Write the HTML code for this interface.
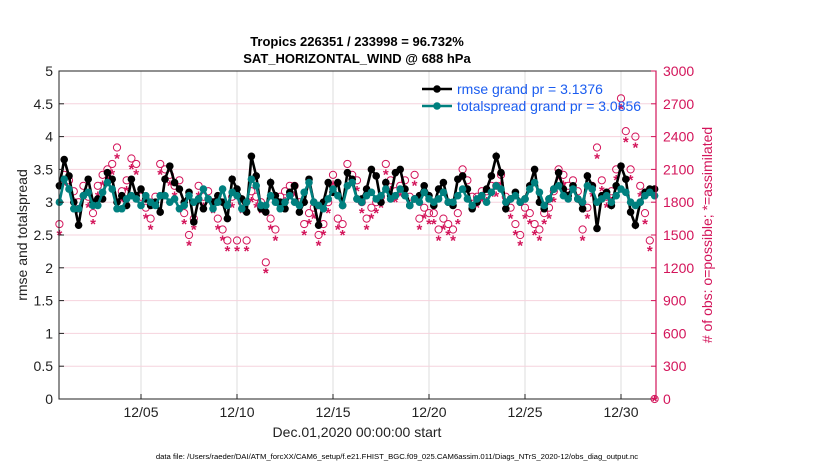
<!DOCTYPE html>
<html><head><meta charset="utf-8"><style>
body{margin:0;background:#fff;width:830px;height:470px;overflow:hidden}
svg{font-family:"Liberation Sans",sans-serif}
</style></head><body>
<svg id="chart" width="830" height="470"></svg>
<script>
const rmse=[3.25,3.65,3.4,3.0,2.65,3.1,3.35,3.0,3.05,3.05,
3.45,3.35,3.0,3.1,2.95,3.35,3.1,3.2,3.05,2.95,
3.0,2.85,3.35,3.55,3.3,3.2,3.0,3.15,2.7,3.05,
2.9,3.05,3.0,3.1,3.0,2.75,3.35,3.2,3.05,2.85,
3.7,3.4,2.9,2.85,3.3,3.1,3.0,2.9,3.15,3.25,
2.85,3.0,3.35,3.0,2.65,3.0,3.3,3.15,3.3,2.95,
3.45,3.35,3.05,3.05,3.2,3.5,3.4,3.0,3.3,3.1,
3.45,3.5,3.2,2.95,3.05,3.1,3.25,3.1,2.95,3.2,
3.3,3.0,2.95,3.35,3.4,3.2,2.9,3.0,3.1,3.2,
3.4,3.7,3.45,2.9,3.05,3.15,3.0,3.05,3.25,3.5,
3.0,2.9,3.05,3.2,3.45,3.2,3.1,3.25,3.05,2.9,
3.4,3.25,2.6,3.1,3.15,2.95,3.25,3.55,3.35,2.85,
2.65,3.0,3.15,3.2,3.2];
const spread=[3.0,3.35,3.2,2.9,2.9,3.1,3.15,2.95,2.95,3.15,
3.3,3.2,2.9,2.9,3.05,3.1,3.05,2.95,3.1,3.0,
2.95,3.1,3.1,3.0,3.05,2.9,2.95,3.1,3.0,3.05,
3.2,3.05,2.9,3.0,3.2,2.95,3.15,3.1,2.9,3.0,
3.35,3.25,2.95,2.95,3.1,3.0,2.9,3.0,3.1,3.0,
2.95,3.15,3.3,3.0,2.95,2.9,3.05,3.2,3.1,2.95,
3.25,3.3,3.05,3.0,3.1,3.15,3.05,3.1,3.2,3.05,
3.1,3.2,3.1,2.95,3.05,3.0,3.15,3.05,3.0,3.05,
3.15,3.0,3.0,3.1,3.2,3.05,2.95,3.05,3.1,3.0,
3.15,3.25,3.2,3.0,3.05,3.1,3.0,3.05,3.2,3.3,
3.15,2.95,3.05,3.2,3.25,3.1,3.05,3.2,3.05,3.0,
3.25,3.2,3.0,3.05,3.1,3.0,3.1,3.2,3.15,3.0,
2.95,3.0,3.1,3.15,3.1];
const obsPossible=[1600,2050,2000,1900,1800,1950,1850,1700,1950,2050,
2100,2150,2300,1900,2000,2200,2150,1850,1750,1650,
1850,2150,2100,2050,1950,2000,1700,1500,1650,1950,
1850,1900,1800,1650,1550,1450,1850,1450,1800,1450,
1900,1850,1800,1250,1650,1550,1850,1900,1950,1950,
1800,1600,1700,1750,1500,1600,1800,2050,1650,1600,
2150,2050,2000,1800,1650,1750,1800,1850,2150,2000,
1900,1950,2000,1850,2050,1650,1750,1700,1700,1550,
1650,1600,1550,1700,2100,2000,1850,1850,1900,1900,
1950,1950,2050,1850,1750,1600,1500,1750,1700,1600,
1550,1700,1750,1900,2100,2050,1950,2000,1900,1550,
1750,1950,2300,2000,1850,1900,2100,2750,2450,2100,
2400,1950,1700,1450,0];
const obsUsed=[1520,1970,1920,1820,1720,1870,1770,1620,1870,1970,
2020,2070,2220,1820,1920,2120,2070,1770,1670,1570,
1770,2070,2020,1970,1870,1920,1620,1420,1570,1870,
1770,1820,1720,1570,1470,1370,1770,1370,1720,1370,
1820,1770,1720,1170,1570,1470,1770,1820,1870,1870,
1720,1520,1620,1670,1420,1520,1720,1970,1570,1520,
2070,1970,1920,1720,1570,1670,1720,1770,2070,1920,
1820,1870,1920,1770,1970,1570,1670,1620,1620,1470,
1570,1520,1470,1620,2020,1920,1770,1770,1820,1820,
1870,1870,1970,1770,1670,1520,1420,1670,1620,1520,
1470,1620,1670,1820,2020,1970,1870,1920,1820,1470,
1670,1870,2220,1920,1770,1820,2020,2670,2370,2020,
2320,1870,1620,1370,0];
const dayStart=0.75, dayStep=0.25;
const xTickDays=[5,10,15,20,25,30];
const xTickLabels=["12/05","12/10","12/15","12/20","12/25","12/30"];
const yLeftTicks=[0,0.5,1,1.5,2,2.5,3,3.5,4,4.5,5];
const yRightTicks=[0,300,600,900,1200,1500,1800,2100,2400,2700,3000];

const svg=document.getElementById('chart');
const NS='http://www.w3.org/2000/svg';
const L=59,R=656,T=71,B=399;
const xs=d=>64.2+(d-1)*19.2;
const yl=v=>B-(v/5)*(B-T);
const yr=v=>B-(v/3000)*(B-T);
const RED='#d3145a',TEAL='#00807f';
function mk(tag,at,parent){const e=document.createElementNS(NS,tag);for(const k in at)e.setAttribute(k,at[k]);(parent||svg).appendChild(e);return e;}
function txt(s,at,parent){const e=mk('text',at,parent);e.textContent=s;return e;}

mk('rect',{x:L,y:T,width:R-L,height:B-T,fill:'#fff'});
const grid=mk('g',{});


xTickDays.forEach(d=>mk('line',{x1:xs(d),x2:xs(d),y1:T,y2:B,stroke:'#dcdcdc','stroke-width':1},grid));
yRightTicks.forEach(v=>mk('line',{x1:L,x2:R,y1:yr(v),y2:yr(v),stroke:'#f6d3dd','stroke-width':1},grid));

const obsG=mk('g',{});


obsPossible.forEach((v,i)=>{const c=mk('circle',{cx:xs(dayStart+i*dayStep),cy:yr(v),r:3.6,fill:'none',stroke:RED,'stroke-width':1},obsG);

});
obsUsed.forEach((v,i)=>{const t=txt('*',{x:xs(dayStart+i*dayStep),y:yr(v)+7,'text-anchor':'middle','font-size':15,'font-weight':'bold',fill:RED},obsG);

});

function series(vals,color,name,r){
 const g=mk('g',{});
 
 
 const pts=vals.map((v,i)=>xs(dayStart+i*dayStep).toFixed(1)+','+yl(v).toFixed(1)).join(' ');
 mk('polyline',{points:pts,fill:'none',stroke:color,'stroke-width':2.6},g);
 vals.forEach((v,i)=>{const c=mk('circle',{cx:xs(dayStart+i*dayStep),cy:yl(v),r:r,fill:color},g);
 
 });
}
series(rmse,'#000','rmse-series',3.8);
series(spread,TEAL,'totalspread-series',3.8);

mk('rect',{x:L,y:T,width:R-L,height:B-T,fill:'none',stroke:'#222','stroke-width':1});
mk('line',{x1:R,x2:R,y1:T,y2:B,stroke:RED,'stroke-width':1.2});

const ax=mk('g',{'font-size':14});


yLeftTicks.forEach(v=>{mk('line',{x1:L,x2:L+5,y1:yl(v),y2:yl(v),stroke:'#222'},ax);
 txt(String(v),{x:L-6,y:yl(v)+5,'text-anchor':'end',fill:'#222'},ax);});
yRightTicks.forEach(v=>{mk('line',{x1:R-5,x2:R,y1:yr(v),y2:yr(v),stroke:RED},ax);
 txt(String(v),{x:R+7,y:yr(v)+5,'text-anchor':'start',fill:RED},ax);});
xTickDays.forEach((d,i)=>{mk('line',{x1:xs(d),x2:xs(d),y1:B-5,y2:B,stroke:'#222'},ax);
 txt(xTickLabels[i],{x:xs(d),y:B+18,'text-anchor':'middle',fill:'#222'},ax);});
</script>
<svg style="position:absolute;left:0;top:0" width="830" height="470">
<text x="357" y="46" text-anchor="middle" font-size="13" font-weight="bold" fill="#000" font-family="Liberation Sans">Tropics 226351 / 233998 = 96.732%</text>
<text x="357" y="63" text-anchor="middle" font-size="13" font-weight="bold" fill="#000" font-family="Liberation Sans">SAT_HORIZONTAL_WIND @ 688 hPa</text>
<text transform="translate(27,235) rotate(-90)" text-anchor="middle" font-size="14" fill="#222" font-family="Liberation Sans">rmse and totalspread</text>
<text transform="translate(712,235) rotate(-90)" text-anchor="middle" font-size="14" fill="#d3145a" font-family="Liberation Sans"># of obs: o=possible; *=assimilated</text>
<text x="357" y="437" text-anchor="middle" font-size="14" fill="#222" font-family="Liberation Sans">Dec.01,2020 00:00:00 start</text>
<text x="397" y="459" text-anchor="middle" font-size="7.7" fill="#000" font-family="Liberation Sans">data file: /Users/raeder/DAI/ATM_forcXX/CAM6_setup/f.e21.FHIST_BGC.f09_025.CAM6assim.011/Diags_NTrS_2020-12/obs_diag_output.nc</text>
<g>
<line x1="422" x2="452" y1="89" y2="89" stroke="#000" stroke-width="2.6"/><circle cx="437" cy="89" r="3.8" fill="#000"/>
<text x="457" y="94" font-size="14" fill="#1a5cf0" font-family="Liberation Sans">rmse grand pr = 3.1376</text>
<line x1="422" x2="452" y1="106" y2="106" stroke="#00807f" stroke-width="2.6"/><circle cx="437" cy="106" r="3.8" fill="#00807f"/>
<text x="457" y="111" font-size="14" fill="#1a5cf0" font-family="Liberation Sans">totalspread grand pr = 3.0856</text>
</g>
</svg>
</body></html>
